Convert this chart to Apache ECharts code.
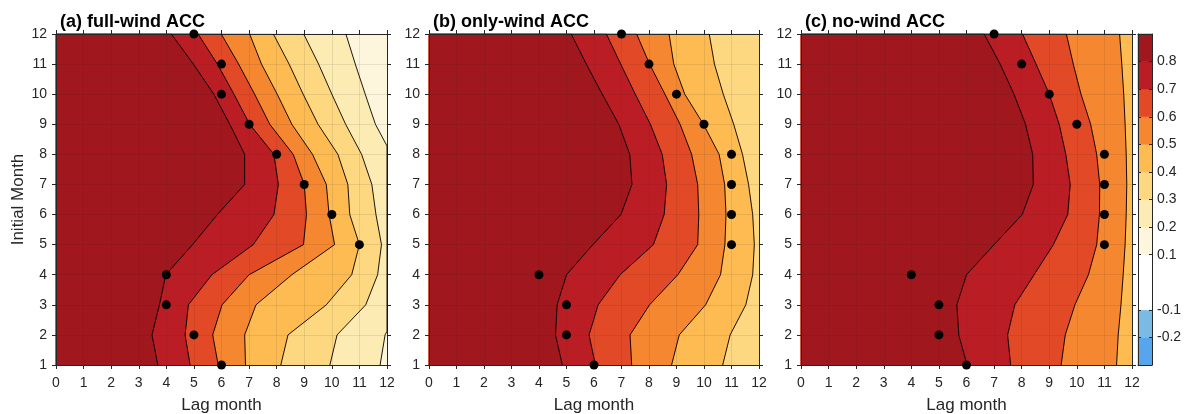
<!DOCTYPE html>
<html><head><meta charset="utf-8">
<script src="https://cdn.jsdelivr.net/npm/echarts@6/dist/echarts.min.js"></script>
<style>html,body{margin:0;padding:0;background:#fff}#c{width:1184px;height:414px}</style>
</head><body><div id="c"></div>
<script>
// ---------- data ----------
const lagTicks = [0,1,2,3,4,5,6,7,8,9,10,11,12];
const months = [1,2,3,4,5,6,7,8,9,10,11,12];
const panelTitles = ['(a) full-wind ACC', '(b) only-wind ACC', '(c) no-wind ACC'];
const colorbarTicks = [0.8,0.7,0.6,0.5,0.4,0.3,0.2,0.1,-0.1,-0.2];
// colour bands, [lower, upper] ACC bounds
const bandBounds = [[-0.3,-0.2],[-0.2,-0.1],[-0.1,0.1],[0.1,0.2],[0.2,0.3],[0.3,0.4],[0.4,0.5],[0.5,0.6],[0.6,0.7],[0.7,0.8],[0.8,0.9]];
const bandColors = ['#57A5ED','#7ABBE6','#FFFFFF','#FDF6DC','#FCECB4','#FDD880','#FDBB52','#F58730','#E24926','#BB1D24','#A0171E'];

// contour crossings: lag month of each level, for initial months 1..12
const fullWind08 = [3.69,3.48,3.75,3.98,4.95,5.85,6.84,6.84,6.30,5.72,4.98,4.18];
const fullWind07 = [4.86,4.68,4.80,5.65,7.15,7.90,8.06,7.90,7.02,6.45,5.85,5.15];
const fullWind06 = [5.88,5.68,6.02,7.00,8.97,9.08,9.00,8.60,7.75,7.20,6.62,5.99];
const fullWind05 = [6.87,6.84,7.25,8.55,10.10,9.90,9.80,9.30,8.55,8.02,7.45,7.02];
const fullWind04 = [8.15,8.41,9.80,10.72,11.00,10.65,10.58,10.22,9.50,8.96,8.45,7.88];
const fullWind03 = [9.93,10.19,11.23,11.66,11.80,11.60,11.45,11.08,10.50,10.00,9.52,8.98];
const fullWind02 = [[11.75,1],[11.93,2],[12,2.12],[12,8.28],[11.58,9],[11.21,10],[10.85,11],[10.51,12]];
const fullWindFloor = 0.1;

const onlyWind08 = [4.85,4.60,4.66,5.00,5.96,6.98,7.38,7.30,6.90,6.30,5.72,5.17];
const onlyWind07 = [6.05,5.82,6.15,6.95,8.16,8.55,8.64,8.48,8.05,7.50,6.97,6.45];
const onlyWind06 = [7.37,7.31,8.02,9.05,9.77,9.81,9.77,9.55,9.13,8.58,8.02,7.55];
const onlyWind05 = [8.82,9.10,10.06,10.60,10.76,10.80,10.75,10.55,9.98,9.30,8.90,8.73];
const onlyWind04 = [10.68,10.95,11.52,11.77,11.83,11.77,11.62,11.40,11.08,10.70,10.38,10.19];
const onlyWindFloor = 0.3;

const noWind08 = [6.02,5.72,5.65,6.00,7.00,8.02,8.42,8.40,8.14,7.72,7.22,6.64];
const noWind07 = [7.60,7.49,7.75,8.45,9.15,9.67,9.76,9.60,9.36,9.00,8.52,8.03];
const noWind06 = [9.43,9.58,9.93,10.42,10.72,10.82,10.83,10.72,10.50,10.15,9.87,9.62];
const noWind05 = [11.44,11.50,11.60,11.68,11.75,11.79,11.81,11.79,11.75,11.70,11.63,11.55];
const noWindFloor = 0.4;

// dots: [lag month, initial month]
const fullWindDots = [[6,1],[5,2],[4,3],[4,4],[11,5],[10,6],[9,7],[8,8],[7,9],[6,10],[6,11],[5,12]];
const onlyWindDots = [[6,1],[5,2],[5,3],[4,4],[11,5],[11,6],[11,7],[11,8],[10,9],[9,10],[8,11],[7,12]];
const noWindDots   = [[6,1],[5,2],[5,3],[4,4],[11,5],[11,6],[11,7],[11,8],[10,9],[9,10],[8,11],[7,12]];

const panels = [
  {floor: fullWindFloor, dots: fullWindDots, contours: [[0.8,fullWind08],[0.7,fullWind07],[0.6,fullWind06],[0.5,fullWind05],[0.4,fullWind04],[0.3,fullWind03],[0.2,fullWind02]]},
  {floor: onlyWindFloor, dots: onlyWindDots, contours: [[0.8,onlyWind08],[0.7,onlyWind07],[0.6,onlyWind06],[0.5,onlyWind05],[0.4,onlyWind04]]},
  {floor: noWindFloor, dots: noWindDots, contours: [[0.8,noWind08],[0.7,noWind07],[0.6,noWind06],[0.5,noWind05]]}
];

// ---------- layout / style ----------
const FONT = '"Liberation Sans", Arial, Helvetica, sans-serif';
const TXT = '#262626';
const GRIDC = 'rgba(38,38,38,0.10)';
const gridPos = [{left:56, width:331}, {left:429, width:330}, {left:801, width:331}];
const TOP = 34, HEIGHT = 331;

function bandColor(lower){
  let best = 0;
  bandBounds.forEach((b,i)=>{ if (Math.abs(b[0]-lower) < 1e-6) best = i; });
  return bandColors[best];
}
function toPath(c){ return Array.isArray(c[0]) ? c : c.map((x,i)=>[x, months[i]]); }

const grid = [], xAxis = [], yAxis = [], series = [], title = [];
const xmin = lagTicks[0], xmax = lagTicks[lagTicks.length-1];
const ymin = months[0], ymax = months[months.length-1];

panels.forEach((p, k) => {
  grid.push({left: gridPos[k].left, width: gridPos[k].width, top: TOP, height: HEIGHT, containLabel: false, outerBoundsMode: 'none'});
  title.push({text: panelTitles[k], left: gridPos[k].left - 1, top: 8,
    textStyle: {fontFamily: FONT, fontSize: 18, fontWeight: 'bold', color: '#000'}});
  const xb = xAxis.length;
  xAxis.push({type:'value', gridIndex:k, min:xmin, max:xmax, interval:1, position:'bottom', z:3,
    name:'Lag month', nameLocation:'middle', nameGap:32,
    nameTextStyle:{fontFamily:FONT, fontSize:17, color:TXT},
    axisLine:{show:true, onZero:false, lineStyle:{color:TXT, width:1}},
    axisTick:{show:true, inside:false, length:4, lineStyle:{color:TXT}},
    axisLabel:{fontFamily:FONT, fontSize:14, color:TXT, margin:11},
    splitLine:{show:true, lineStyle:{color:GRIDC, width:1}}});
  xAxis.push({type:'value', gridIndex:k, min:xmin, max:xmax, interval:1, position:'top', z:3,
    axisLine:{show:true, onZero:false, lineStyle:{color:TXT, width:1}},
    axisTick:{show:true, inside:false, length:4, lineStyle:{color:TXT}},
    axisLabel:{show:false}, splitLine:{show:false}});
  const yb = yAxis.length;
  yAxis.push({type:'value', gridIndex:k, min:ymin, max:ymax, interval:1, position:'left', z:3,
    name: k===0 ? 'Initial Month' : '', nameLocation:'middle', nameGap:29,
    nameTextStyle:{fontFamily:FONT, fontSize:17, color:TXT},
    axisLine:{show:true, onZero:false, lineStyle:{color:TXT, width:1}},
    axisTick:{show:true, inside:false, length:4, lineStyle:{color:TXT}},
    axisLabel:{fontFamily:FONT, fontSize:14, color:TXT, margin:9},
    splitLine:{show:true, lineStyle:{color:GRIDC, width:1}}});
  yAxis.push({type:'value', gridIndex:k, min:ymin, max:ymax, interval:1, position:'right', z:3,
    axisLine:{show:true, onZero:false, lineStyle:{color:TXT, width:1}},
    axisTick:{show:true, inside:false, length:4, lineStyle:{color:TXT}},
    axisLabel:{show:false}, splitLine:{show:false}});

  // filled bands (painter's order: floor first, then increasing level)
  const polys = [{color: bandColor(p.floor), pts: [[xmin,ymin],[xmax,ymin],[xmax,ymax],[xmin,ymax]]}];
  p.contours.slice().sort((a,b)=>a[0]-b[0]).forEach(c => {
    const path = toPath(c[1]);
    polys.push({color: bandColor(c[0]), pts: [[xmin,ymin]].concat(path, [[xmin,ymax]])});
  });
  series.push({type:'custom', xAxisIndex:xb, yAxisIndex:yb, z:1, silent:true, animation:false,
    data: polys.map(()=>[6,6]),
    renderItem: (params, api) => {
      const q = polys[params.dataIndex];
      return {type:'polygon', shape:{points: q.pts.map(pt=>api.coord(pt))},
        style:{fill:q.color, stroke:q.color, lineWidth:0.6}};
    }});
  // contour lines
  p.contours.forEach(c => {
    series.push({type:'line', xAxisIndex:xb, yAxisIndex:yb, z:4, silent:true, animation:false,
      data: toPath(c[1]), showSymbol:false, symbol:'none', clip:false,
      lineStyle:{color:'#000', width:0.9}});
  });
  // dots
  series.push({type:'scatter', xAxisIndex:xb, yAxisIndex:yb, z:5, silent:true, animation:false, clip:false,
    data: p.dots, symbol:'circle', symbolSize:9, itemStyle:{color:'#000', opacity:1}});
});

// colour bar
const cbg = grid.length;
grid.push({left:1138, width:14, top:TOP, height:HEIGHT, containLabel:false, outerBoundsMode:'none'});
const cbx = xAxis.length;
xAxis.push({type:'value', gridIndex:cbg, min:0, max:1, position:'bottom', z:3,
  axisLine:{show:true, onZero:false, lineStyle:{color:TXT, width:1}}, axisTick:{show:false}, axisLabel:{show:false}, splitLine:{show:false}});
xAxis.push({type:'value', gridIndex:cbg, min:0, max:1, position:'top', z:3,
  axisLine:{show:true, onZero:false, lineStyle:{color:TXT, width:1}}, axisTick:{show:false}, axisLabel:{show:false}, splitLine:{show:false}});
const cby = yAxis.length;
yAxis.push({type:'value', gridIndex:cbg, min:bandBounds[0][0], max:bandBounds[bandBounds.length-1][1], position:'right', z:3,
  axisLine:{show:true, onZero:false, lineStyle:{color:TXT, width:1}},
  axisTick:{show:true, inside:true, length:3, customValues: colorbarTicks, lineStyle:{color:TXT}},
  axisLabel:{show:true, customValues: colorbarTicks, fontFamily:FONT, fontSize:14, color:TXT, margin:5,
    formatter: v => (Math.round(v*10)/10).toFixed(1)},
  splitLine:{show:false}});
yAxis.push({type:'value', gridIndex:cbg, min:bandBounds[0][0], max:bandBounds[bandBounds.length-1][1], position:'left', z:3,
  axisLine:{show:true, onZero:false, lineStyle:{color:TXT, width:1}},
  axisTick:{show:true, inside:true, length:3, customValues: colorbarTicks, lineStyle:{color:TXT}},
  axisLabel:{show:false}, splitLine:{show:false}});
series.push({type:'custom', xAxisIndex:cbx, yAxisIndex:cby, z:1, silent:true, animation:false,
  data: bandBounds.map(b => [0.5, (b[0]+b[1])/2]),
  renderItem: (params, api) => {
    const b = bandBounds[params.dataIndex];
    const p0 = api.coord([0, b[0]]), p1 = api.coord([1, b[1]]);
    return {type:'rect', shape:{x:p0[0], y:p1[1], width:p1[0]-p0[0], height:p0[1]-p1[1]},
      style:{fill:bandColors[params.dataIndex], stroke:bandColors[params.dataIndex], lineWidth:0.5}};
  }});

const chart = echarts.init(document.getElementById('c'), null, {renderer:'canvas'});
chart.setOption({animation:false, backgroundColor:'#fff', title, grid, xAxis, yAxis, series});
</script></body></html>
